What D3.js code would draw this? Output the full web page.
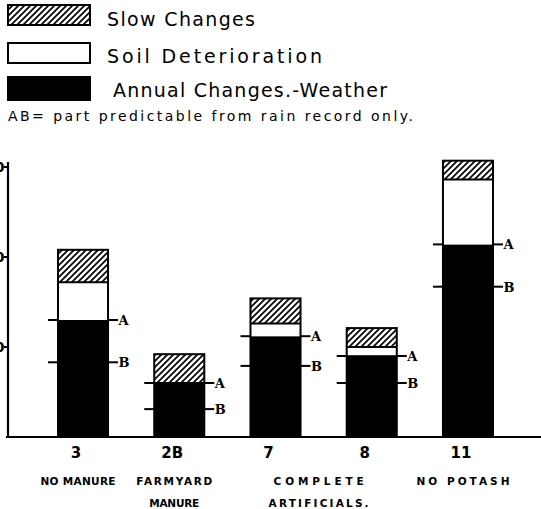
<!DOCTYPE html>
<html><head><meta charset="utf-8">
<script src="https://cdn.jsdelivr.net/npm/d3@7"></script>
<style>body{margin:0;background:#fff}svg{display:block}</style>
</head><body>
<script>
const categories = ["3","2B","7","8","11"];
const weather = [13.0, 6.0, 11.2, 9.1, 21.4];
const soil = [4.2, 0, 1.4, 0.9, 7.2];
const slow = [3.6, 3.2, 2.8, 2.1, 2.1];
const pointA = [13.0, 6.0, 11.2, 9.0, 21.4];
const pointB = [8.3, 3.1, 7.9, 6.0, 16.7];
const yTicks = [10, 20, 30];
const legendLabels = ["Slow Changes", "Soil Deterioration", "Annual Changes.-Weather"];
const note = "AB= part predictable from rain record only.";
const captions = [
  {cats: ["3"], lines: ["NO MANURE"]},
  {cats: ["2B"], lines: ["FARMYARD", "MANURE"]},
  {cats: ["7","8"], lines: ["COMPLETE", "ARTIFICIALS."]},
  {cats: ["11"], lines: ["NO POTASH"]}
];

const W = 541, H = 509;
const svg = d3.select("body").append("svg").attr("width", W).attr("height", H);
const defs = svg.append("defs");
const pat = defs.append("pattern").attr("id","hatch").attr("patternUnits","userSpaceOnUse")
  .attr("width",6).attr("height",6);
pat.append("rect").attr("width",6).attr("height",6).attr("fill","#fff");
pat.append("path").attr("d","M-1.5,1.5 L1.5,-1.5 M0,6 L6,0 M4.5,7.5 L7.5,4.5")
  .attr("stroke","#000").attr("stroke-width",1.7);

const x = d3.scaleBand().domain(categories).range([34.9, 516.1]).paddingInner(0.48).paddingOuter(0.24);
const y = d3.scaleLinear().domain([0, 30]).range([437, 167]);
const bw = x.bandwidth();

// axes
svg.append("line").attr("x1",8).attr("x2",8).attr("y1",162).attr("y2",y(0)+1)
  .attr("stroke","#000").attr("stroke-width",2.2);
svg.append("line").attr("x1",6).attr("x2",541).attr("y1",y(0)).attr("y2",y(0))
  .attr("stroke","#000").attr("stroke-width",2.2);
const yt = svg.append("g");
yTicks.forEach(t => {
  yt.append("line").attr("x1",4).attr("x2",8).attr("y1",y(t)).attr("y2",y(t))
    .attr("stroke","#000").attr("stroke-width",2);
  yt.append("text").attr("x",4.5).attr("y",y(t)+5).attr("text-anchor","end")
    .attr("font-family","DejaVu Sans").attr("font-weight","bold").attr("font-size",14).text(t);
});

// bars
const g = svg.append("g");
categories.forEach((c, i) => {
  const x0 = x(c);
  const w0 = weather[i], s0 = soil[i], h0 = slow[i];
  g.append("rect").attr("x",x0).attr("width",bw).attr("y",y(w0)).attr("height",y(0)-y(w0)).attr("fill","#000");
  if (s0 > 0) g.append("rect").attr("x",x0).attr("width",bw).attr("y",y(w0+s0)).attr("height",y(w0)-y(w0+s0))
    .attr("fill","#fff");
  g.append("rect").attr("x",x0).attr("width",bw).attr("y",y(w0+s0+h0)).attr("height",y(w0+s0)-y(w0+s0+h0))
    .attr("fill","url(#hatch)");
  g.append("rect").attr("x",x0).attr("width",bw).attr("y",y(w0+s0+h0)).attr("height",y(0)-y(w0+s0+h0))
    .attr("fill","none").attr("stroke","#000").attr("stroke-width",2);
  g.append("line").attr("x1",x0).attr("x2",x0+bw).attr("y1",y(w0+s0)).attr("y2",y(w0+s0))
    .attr("stroke","#000").attr("stroke-width",2);
  [["A", pointA[i]], ["B", pointB[i]]].forEach(([lab, v]) => {
    const yy = y(v);
    g.append("line").attr("x1",x0-10).attr("x2",x0).attr("y1",yy).attr("y2",yy).attr("stroke","#000").attr("stroke-width",2);
    g.append("line").attr("x1",x0+bw).attr("x2",x0+bw+10).attr("y1",yy).attr("y2",yy).attr("stroke","#000").attr("stroke-width",2);
    g.append("text").attr("x",x0+bw+10.5).attr("y",yy+5).attr("font-family","DejaVu Serif")
      .attr("font-weight","bold").attr("font-size",13).text(lab);
  });
  g.append("text").attr("x",x0+bw/2-7).attr("y",458).attr("text-anchor","middle")
    .attr("font-family","DejaVu Sans").attr("font-weight","bold").attr("font-size",15).text(c);
});

// captions
const capW = {"NO MANURE":75,"FARMYARD":76,"MANURE":50,"COMPLETE":90,"ARTIFICIALS.":100,"NO POTASH":93};
captions.forEach(cp => {
  const cx = d3.mean(cp.cats, c => x(c) + bw/2) - 5;
  cp.lines.forEach((ln, j) => {
    g.append("text").attr("x",cx).attr("y",485 + j*22).attr("text-anchor","middle")
      .attr("font-family","DejaVu Sans").attr("font-weight","bold").attr("font-size",10.5)
      .attr("textLength",capW[ln]).attr("lengthAdjust","spacing").text(ln);
  });
});

// legend
const leg = svg.append("g");
const sw = [{y:5,h:20,fill:"url(#hatch)"},{y:43,h:20,fill:"#fff"},{y:77,h:23,fill:"#000"}];
const lx = [107,107,113], ly = [26,63,97], lw = [148,215,274];
sw.forEach((s, i) => {
  leg.append("rect").attr("x",8).attr("y",s.y).attr("width",82).attr("height",s.h)
    .attr("fill",s.fill).attr("stroke","#000").attr("stroke-width",2);
  leg.append("text").attr("x",lx[i]).attr("y",ly[i]).attr("font-family","DejaVu Sans")
    .attr("font-size",19).attr("textLength",lw[i]).attr("lengthAdjust","spacing").text(legendLabels[i]);
});
leg.append("text").attr("x",8).attr("y",121).attr("font-family","DejaVu Sans")
  .attr("font-size",14).attr("textLength",405).attr("lengthAdjust","spacing").text(note);
</script>
</body></html>
